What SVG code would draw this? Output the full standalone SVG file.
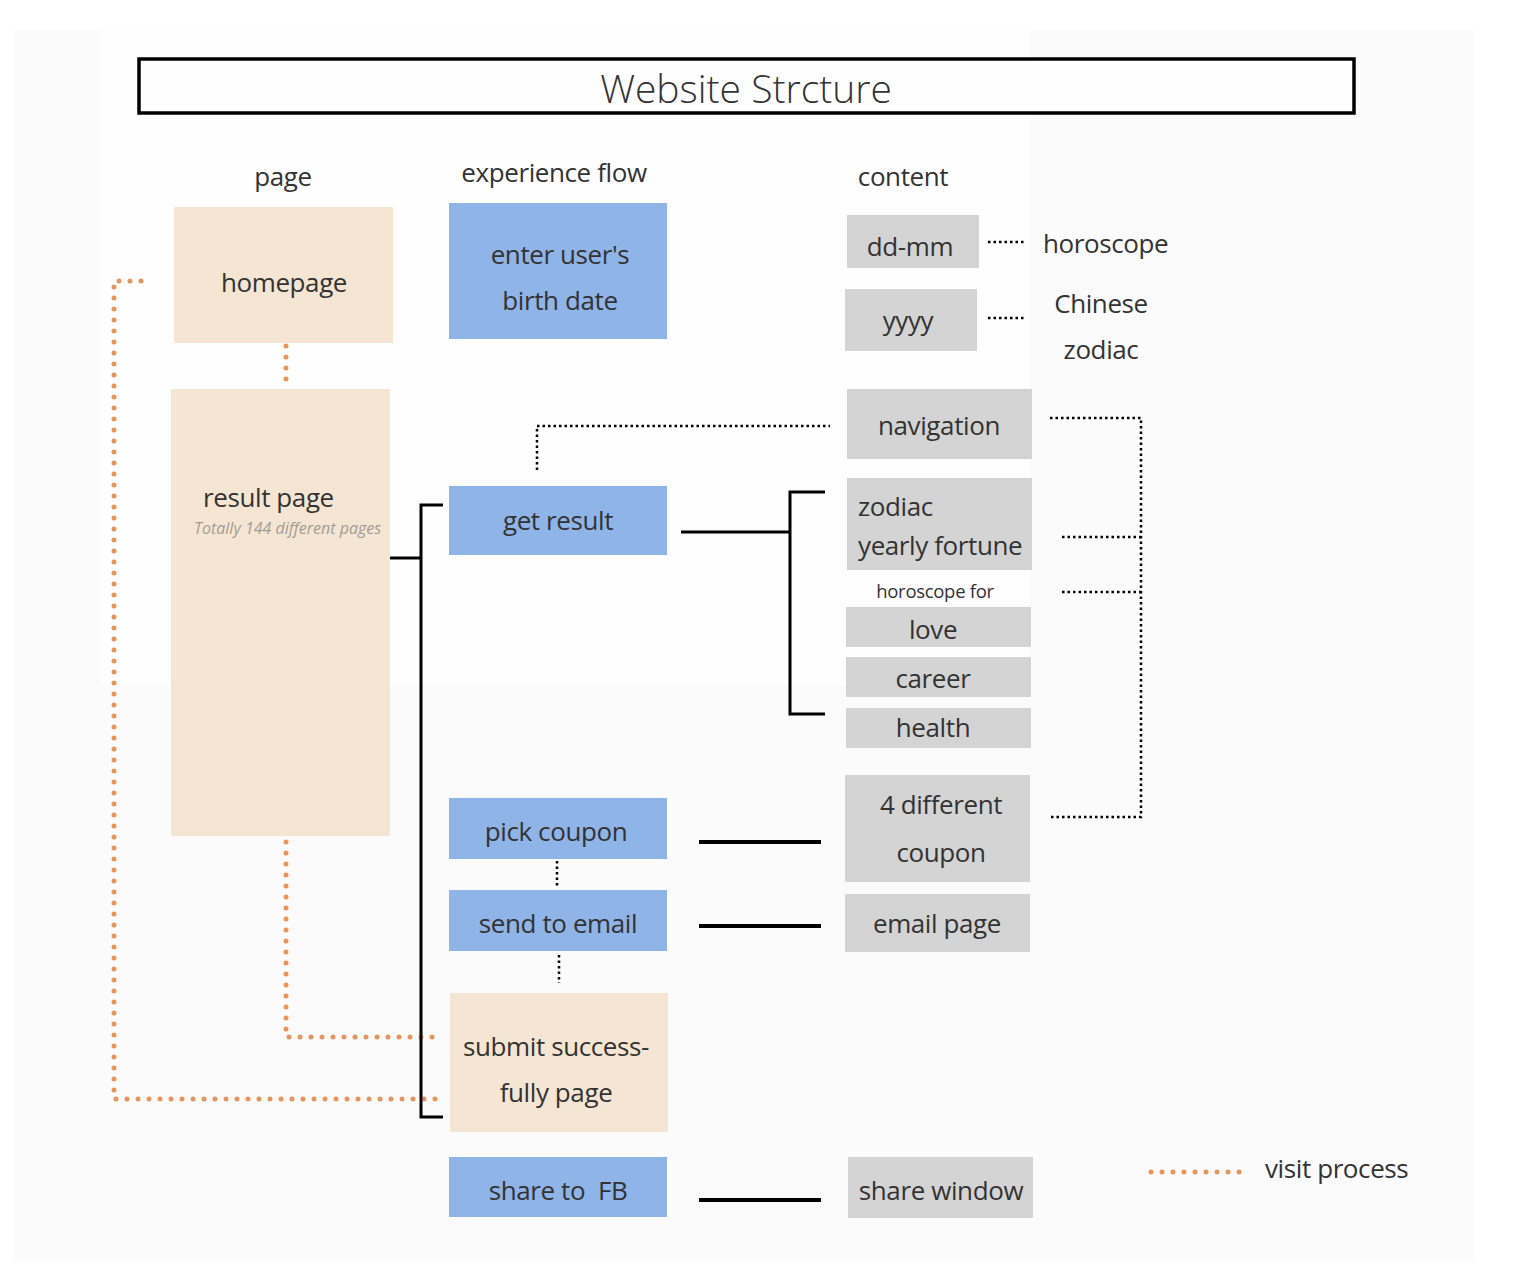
<svg xmlns="http://www.w3.org/2000/svg" width="1514" height="1266" viewBox="0 0 1514 1266">
<style>
text{font-family:"Open Sans","Noto Sans","Liberation Sans",sans-serif;fill:#333;}
.t{font-size:26px;letter-spacing:-0.4px;}
.h{font-size:26px;letter-spacing:-0.4px;}
.m{text-anchor:middle;}
.beige{fill:#f5e6d3;}
.blue{fill:#8fb4e8;}
.gray{fill:#d4d4d4;}
.solid{stroke:#000;stroke-width:3;fill:none;}
.thick{stroke:#000;stroke-width:4;fill:none;}
.dot{stroke:#000;stroke-width:2.5;fill:none;stroke-dasharray:2.5 3;}
.odot{stroke:#e8955a;stroke-width:5;fill:none;stroke-dasharray:0 11;stroke-linecap:round;}
</style>
<rect x="0" y="0" width="1514" height="1266" fill="#fff"/>
<rect x="14" y="30" width="1460" height="1232" fill="#fbfbfb"/>
<rect x="100" y="30" width="930" height="655" fill="#fefefe"/>

<g id="title">
<rect x="139" y="59" width="1215" height="54" fill="#fefefe" stroke="#000" stroke-width="3.5"/>
<text x="746" y="103" class="m" style="font-size:39px;font-weight:300">Website Strcture</text>
</g>

<g id="headers">
<text x="283" y="186" class="m h">page</text>
<text x="554" y="182" class="m h">experience flow</text>
<text x="903" y="186" class="m h">content</text>
</g>

<g id="connectors">
<path class="odot" d="M286 346 V388"/>
<path class="odot" d="M141 281 H114 V1099 H442"/>
<path class="odot" d="M286 842 V1037 H440"/>
<path class="dot" d="M988 242 H1025"/>
<path class="dot" d="M988 318 H1025"/>
<path class="dot" d="M537 470 V426 H830"/>
<path class="dot" d="M1050 418 H1141 V817 H1050"/>
<path class="dot" d="M1062 537 H1141"/>
<path class="dot" d="M1062 592 H1141"/>
<path class="dot" d="M557 861 V888"/>
<path class="dot" d="M559 955 V983"/>
<path class="solid" d="M681 532 H790"/>
<path class="solid" d="M825 492 H790 V714 H825"/>
<path class="solid" d="M390 558 H421"/>
<path class="solid" d="M443 505 H421 V1117 H443"/>
<path class="thick" d="M699 842 H821"/>
<path class="thick" d="M699 926 H821"/>
<path class="thick" d="M699 1200 H821"/>
</g>

<g id="homepage">
<rect class="beige" x="174" y="207" width="219" height="136"/>
<text x="284" y="292" class="m t">homepage</text>
</g>
<g id="result-page">
<rect class="beige" x="171" y="389" width="219" height="447"/>
<text x="203" y="507" class="t">result page</text>
<text x="194" y="534" style="font-size:16px;font-style:italic;fill:#a39c95">Totally 144 different pages</text>
</g>
<g id="enter-birth-date">
<rect class="blue" x="449" y="203" width="218" height="136"/>
<text x="560" y="264" class="m t">enter user's</text>
<text x="560" y="310" class="m t">birth date</text>
</g>
<g id="get-result">
<rect class="blue" x="449" y="486" width="218" height="69"/>
<text x="558" y="530" class="m t">get result</text>
</g>
<g id="pick-coupon">
<rect class="blue" x="449" y="798" width="218" height="61"/>
<text x="556" y="841" class="m t">pick coupon</text>
</g>
<g id="send-to-email">
<rect class="blue" x="449" y="890" width="218" height="61"/>
<text x="558" y="933" class="m t">send to email</text>
</g>
<g id="submit-page">
<rect class="beige" x="450" y="993" width="218" height="139"/>
<text x="556" y="1056" class="m t">submit success-</text>
<text x="556" y="1102" class="m t">fully page</text>
</g>
<g id="share-fb">
<rect class="blue" x="449" y="1157" width="218" height="60"/>
<text x="558" y="1200" class="m t" xml:space="preserve">share to  FB</text>
</g>

<g id="dd-mm">
<rect class="gray" x="847" y="215" width="132" height="53"/>
<text x="910" y="256" class="m t">dd-mm</text>
</g>
<g id="yyyy">
<rect class="gray" x="845" y="289" width="132" height="62"/>
<text x="908" y="330" class="m t">yyyy</text>
</g>
<g id="horoscope-label">
<text x="1043" y="253" class="t">horoscope</text>
</g>
<g id="chinese-zodiac-label">
<text x="1101" y="313" class="m t">Chinese</text>
<text x="1101" y="359" class="m t">zodiac</text>
</g>
<g id="navigation">
<rect class="gray" x="847" y="389" width="185" height="70"/>
<text x="939" y="435" class="m t">navigation</text>
</g>
<g id="zodiac-yearly-fortune">
<rect class="gray" x="847" y="478" width="185" height="92"/>
<text x="858" y="516" class="t">zodiac</text>
<text x="858" y="555" class="t">yearly fortune</text>
</g>
<g id="horoscope-for">
<text x="935" y="598" class="m" style="font-size:18.5px;letter-spacing:-0.3px">horoscope for</text>
</g>
<g id="love">
<rect class="gray" x="846" y="607" width="185" height="40"/>
<text x="933" y="639" class="m t">love</text>
</g>
<g id="career">
<rect class="gray" x="846" y="657" width="185" height="40"/>
<text x="933" y="688" class="m t">career</text>
</g>
<g id="health">
<rect class="gray" x="846" y="708" width="185" height="40"/>
<text x="933" y="737" class="m t">health</text>
</g>
<g id="coupon">
<rect class="gray" x="845" y="775" width="185" height="107"/>
<text x="941" y="814" class="m t">4 different</text>
<text x="941" y="862" class="m t">coupon</text>
</g>
<g id="email-page">
<rect class="gray" x="845" y="894" width="185" height="58"/>
<text x="937" y="933" class="m t">email page</text>
</g>
<g id="share-window">
<rect class="gray" x="848" y="1157" width="185" height="61"/>
<text x="941" y="1200" class="m t">share window</text>
</g>

<g id="legend">
<path class="odot" d="M1151 1172 H1242"/>
<text x="1265" y="1178" class="h">visit process</text>
</g>
</svg>
